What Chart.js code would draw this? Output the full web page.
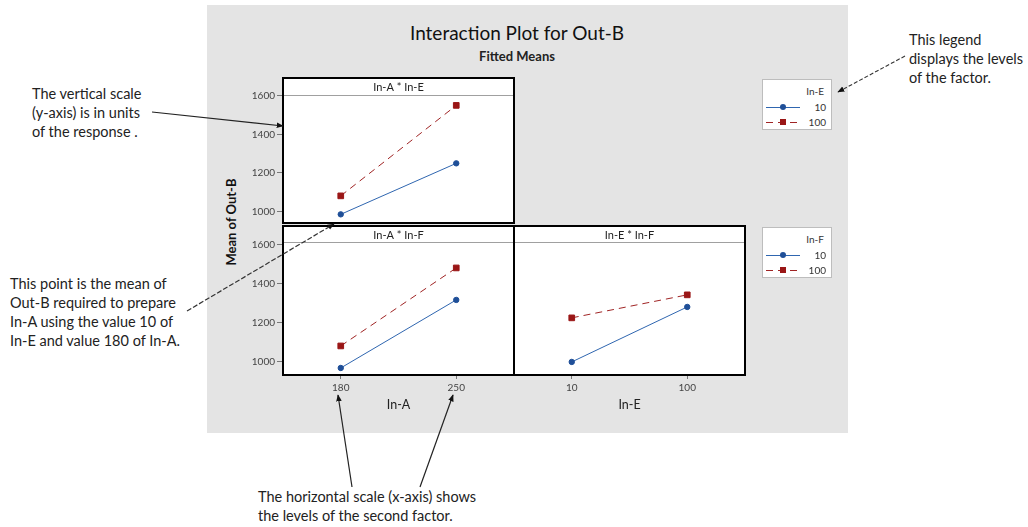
<!DOCTYPE html>
<html><head><meta charset="utf-8">
<script src="https://cdn.jsdelivr.net/npm/chart.js@4"></script>
<style>
html,body{margin:0;padding:0;background:#fff;width:1028px;height:527px;overflow:hidden;font-family:Lato,"Open Sans",sans-serif;color:#222;}
.abs{position:absolute;}
#bg{left:207px;top:5px;width:641px;height:428px;background:#e4e4e4;}
#title{left:307px;top:21px;width:420px;text-align:center;font-size:19px;line-height:24px;color:#111;}
#subtitle{left:307px;top:47px;width:420px;text-align:center;font-size:13px;font-weight:bold;line-height:18px;color:#222;}
#ytitle{left:156px;top:213px;width:150px;text-align:center;font-size:13px;font-weight:bold;line-height:18px;transform:rotate(-90deg);color:#111;}
.note{font-size:14.5px;line-height:19px;color:#222;white-space:nowrap;}
.legend{background:#fff;border:1px solid #bdbdbd;width:68px;height:49px;font-size:10px;color:#333;}
.legend .lt{position:absolute;right:7px;top:5px;}
.legend .row{position:absolute;left:2px;width:60px;height:14px;}
.legend .row span{position:absolute;right:-1px;top:0;line-height:14px;}
.legend svg{position:absolute;left:0;top:0;}
canvas{position:absolute;}
#arrows{position:absolute;left:0;top:0;}
</style></head><body>
<div id="bg" class="abs"></div>
<div id="title" class="abs">Interaction Plot for Out-B</div>
<div id="subtitle" class="abs">Fitted Means</div>
<div id="ytitle" class="abs">Mean of Out-B</div>

<canvas id="p1" width="287" height="161" style="left:233px;top:70px;width:287px;height:161px"></canvas>
<canvas id="p2" width="287" height="200" style="left:233px;top:218px;width:287px;height:200px"></canvas>
<canvas id="p3" width="246" height="200" style="left:504px;top:218px;width:246px;height:200px"></canvas>

<div id="leg1" class="abs legend" style="left:762px;top:79px;"></div>
<div id="leg2" class="abs legend" style="left:762px;top:227px;"></div>

<div class="abs note" style="left:32px;top:84px;">The vertical scale<br>(y-axis) is in units<br>of the response .</div>
<div class="abs note" style="left:10px;top:274px;">This point is the mean of<br>Out-B required to prepare<br>In-A using the value 10 of<br>In-E and value 180 of In-A.</div>
<div class="abs note" style="left:909px;top:30px;">This legend<br>displays the levels<br>of the factor.</div>
<div class="abs note" style="left:258px;top:487px;">The horizontal scale (x-axis) shows<br>the levels of the second factor.</div>

<svg id="arrows" width="1028" height="527">
  <defs>
    <marker id="ah" viewBox="0 0 10 10" refX="9" refY="5" markerWidth="7" markerHeight="7" orient="auto-start-reverse" markerUnits="userSpaceOnUse">
      <path d="M0,1 L10,5 L0,9 z" fill="#111"/>
    </marker>
  </defs>
  <line x1="152" y1="112" x2="283" y2="126" stroke="#222" stroke-width="1.2" marker-end="url(#ah)"/>
  <line x1="187" y1="311" x2="334" y2="224" stroke="#333" stroke-width="1.2" stroke-dasharray="5,2" marker-end="url(#ah)"/>
  <line x1="905" y1="56" x2="838" y2="92" stroke="#333" stroke-width="1.1" stroke-dasharray="4,2" marker-end="url(#ah)"/>
  <line x1="352" y1="487" x2="338" y2="395" stroke="#222" stroke-width="1.2" marker-end="url(#ah)"/>
  <line x1="420" y1="487" x2="453" y2="395" stroke="#222" stroke-width="1.2" marker-end="url(#ah)"/>
</svg>

<script>
// ---- data ----
const inALevels = ['180', '250'];
const inELevels = ['10', '100'];
const seriesLevels = ['10', '100'];
const yTicks = [1000, 1200, 1400, 1600];
const panel1Title = 'In-A * In-E';
const panel2Title = 'In-A * In-F';
const panel3Title = 'In-E * In-F';
const p1_E10  = [985, 1250];
const p1_E100 = [1081, 1551];
const p2_F10  = [969, 1318];
const p2_F100 = [1082, 1482];
const p3_F10  = [1000, 1282];
const p3_F100 = [1226, 1344];

const BLUE = '#2f66b0', BLUE_PT = '#1f4f98', RED = '#a02424', RED_PT = '#9a1616';
const FONT = 'Lato, "Open Sans", sans-serif';

const panelFrame = {
  id: 'panelFrame',
  beforeDraw(chart, args, o) {
    const {ctx, chartArea: a} = chart;
    ctx.save();
    ctx.fillStyle = '#fff';
    ctx.fillRect(a.left, a.top - o.headerH, a.right - a.left, a.bottom - a.top + o.headerH);
    ctx.strokeStyle = '#a0a0a0'; ctx.lineWidth = 1;
    ctx.beginPath(); ctx.moveTo(a.left, a.top + 0.5); ctx.lineTo(a.right, a.top + 0.5); ctx.stroke();
    ctx.fillStyle = '#222'; ctx.font = '11px ' + FONT;
    ctx.textAlign = 'center'; ctx.textBaseline = 'middle';
    ctx.fillText(o.header, (a.left + a.right) / 2, a.top - o.headerH / 2 + 1);
    ctx.restore();
  },
  afterDraw(chart, args, o) {
    const {ctx, chartArea: a} = chart;
    ctx.save(); ctx.strokeStyle = '#000'; ctx.lineWidth = 2;
    ctx.strokeRect(a.left, a.top - o.headerH, a.right - a.left, a.bottom - a.top + o.headerH);
    ctx.restore();
  }
};

function makePanel(id, cfg) {
  const ds = [
    {label: seriesLevels[0], data: cfg.s1, borderColor: BLUE, backgroundColor: BLUE_PT, pointBorderColor: BLUE_PT,
     borderWidth: 1, pointStyle: 'circle', pointRadius: 2.7, tension: 0},
    {label: seriesLevels[1], data: cfg.s2, borderColor: RED, backgroundColor: RED_PT, pointBorderColor: RED_PT,
     borderWidth: 1, borderDash: [7, 5], pointStyle: 'rect', pointRadius: 4, tension: 0}
  ];
  return new Chart(document.getElementById(id), {
    type: 'line',
    data: {labels: cfg.labels, datasets: ds},
    plugins: [panelFrame],
    options: {
      responsive: false, animation: false, devicePixelRatio: 1,
      layout: {padding: cfg.padding},
      plugins: {legend: {display: false}, tooltip: {enabled: false}, title: {display: false},
                panelFrame: {header: cfg.header, headerH: cfg.headerH}},
      scales: {
        x: {type: 'category', offset: true, display: cfg.showX,
            grid: {offset: false, drawOnChartArea: false, drawTicks: true, tickLength: 4, color: '#777'},
            border: {display: false},
            ticks: {font: {size: 10, family: FONT}, color: '#444', padding: 3, maxRotation: 0},
            title: {display: !!cfg.xTitle, text: cfg.xTitle, font: {size: 12.5, family: FONT}, color: '#222', padding: {top: 0, bottom: 3}},
            afterFit: s => { s.height = cfg.showX ? 40 : 0; }},
        y: {type: 'linear', min: cfg.yMin, max: cfg.yMax, display: cfg.showY,
            afterBuildTicks: s => { s.ticks = yTicks.map(v => ({value: v})); },
            afterFit: s => { s.width = cfg.showY ? 50 : 0; },
            grid: {drawOnChartArea: false, drawTicks: true, tickLength: 6, color: '#777'},
            border: {display: false},
            ticks: {font: {size: 10, family: FONT}, color: '#444', padding: 2, callback: v => String(v)}}
      }
    }
  });
}

makePanel('p1', {labels: inALevels, s1: p1_E10, s2: p1_E100, header: panel1Title, headerH: 17,
  padding: {top: 25, right: 6, bottom: 4, left: 0}, showX: false, showY: true, yMin: 940, yMax: 1605});
makePanel('p2', {labels: inALevels, s1: p2_F10, s2: p2_F100, header: panel2Title, headerH: 16,
  padding: {top: 24, right: 6, bottom: 3, left: 0}, showX: true, showY: true, xTitle: 'In-A', yMin: 933, yMax: 1615});
makePanel('p3', {labels: inELevels, s1: p3_F10, s2: p3_F100, header: panel3Title, headerH: 16,
  padding: {top: 24, right: 4, bottom: 3, left: 10}, showX: true, showY: false, xTitle: 'In-E', yMin: 933, yMax: 1615});

// ---- legends ----
function buildLegend(elId, factor) {
  const el = document.getElementById(elId);
  let html = '<div class="lt">' + factor + '</div>';
  const rows = [
    {lab: seriesLevels[0], top: 20, col: BLUE, pt: BLUE_PT, dash: '', shape: 'c'},
    {lab: seriesLevels[1], top: 35, col: RED, pt: RED_PT, dash: '7,5', shape: 's'}
  ];
  rows.forEach(r => {
    const mk = r.shape === 'c'
      ? '<circle cx="18" cy="7" r="3" fill="' + r.pt + '"/>'
      : '<rect x="15" y="4" width="6" height="6" fill="' + r.pt + '"/>';
    html += '<div class="row" style="top:' + r.top + 'px"><svg width="40" height="14">' +
      '<line x1="1" y1="7.5" x2="35" y2="7.5" stroke="' + r.col + '" stroke-width="1"' +
      (r.dash ? ' stroke-dasharray="' + r.dash + '"' : '') + '/>' + mk + '</svg><span>' + r.lab + '</span></div>';
  });
  el.innerHTML = html;
}
buildLegend('leg1', 'In-E');
buildLegend('leg2', 'In-F');
</script>
</body></html>
